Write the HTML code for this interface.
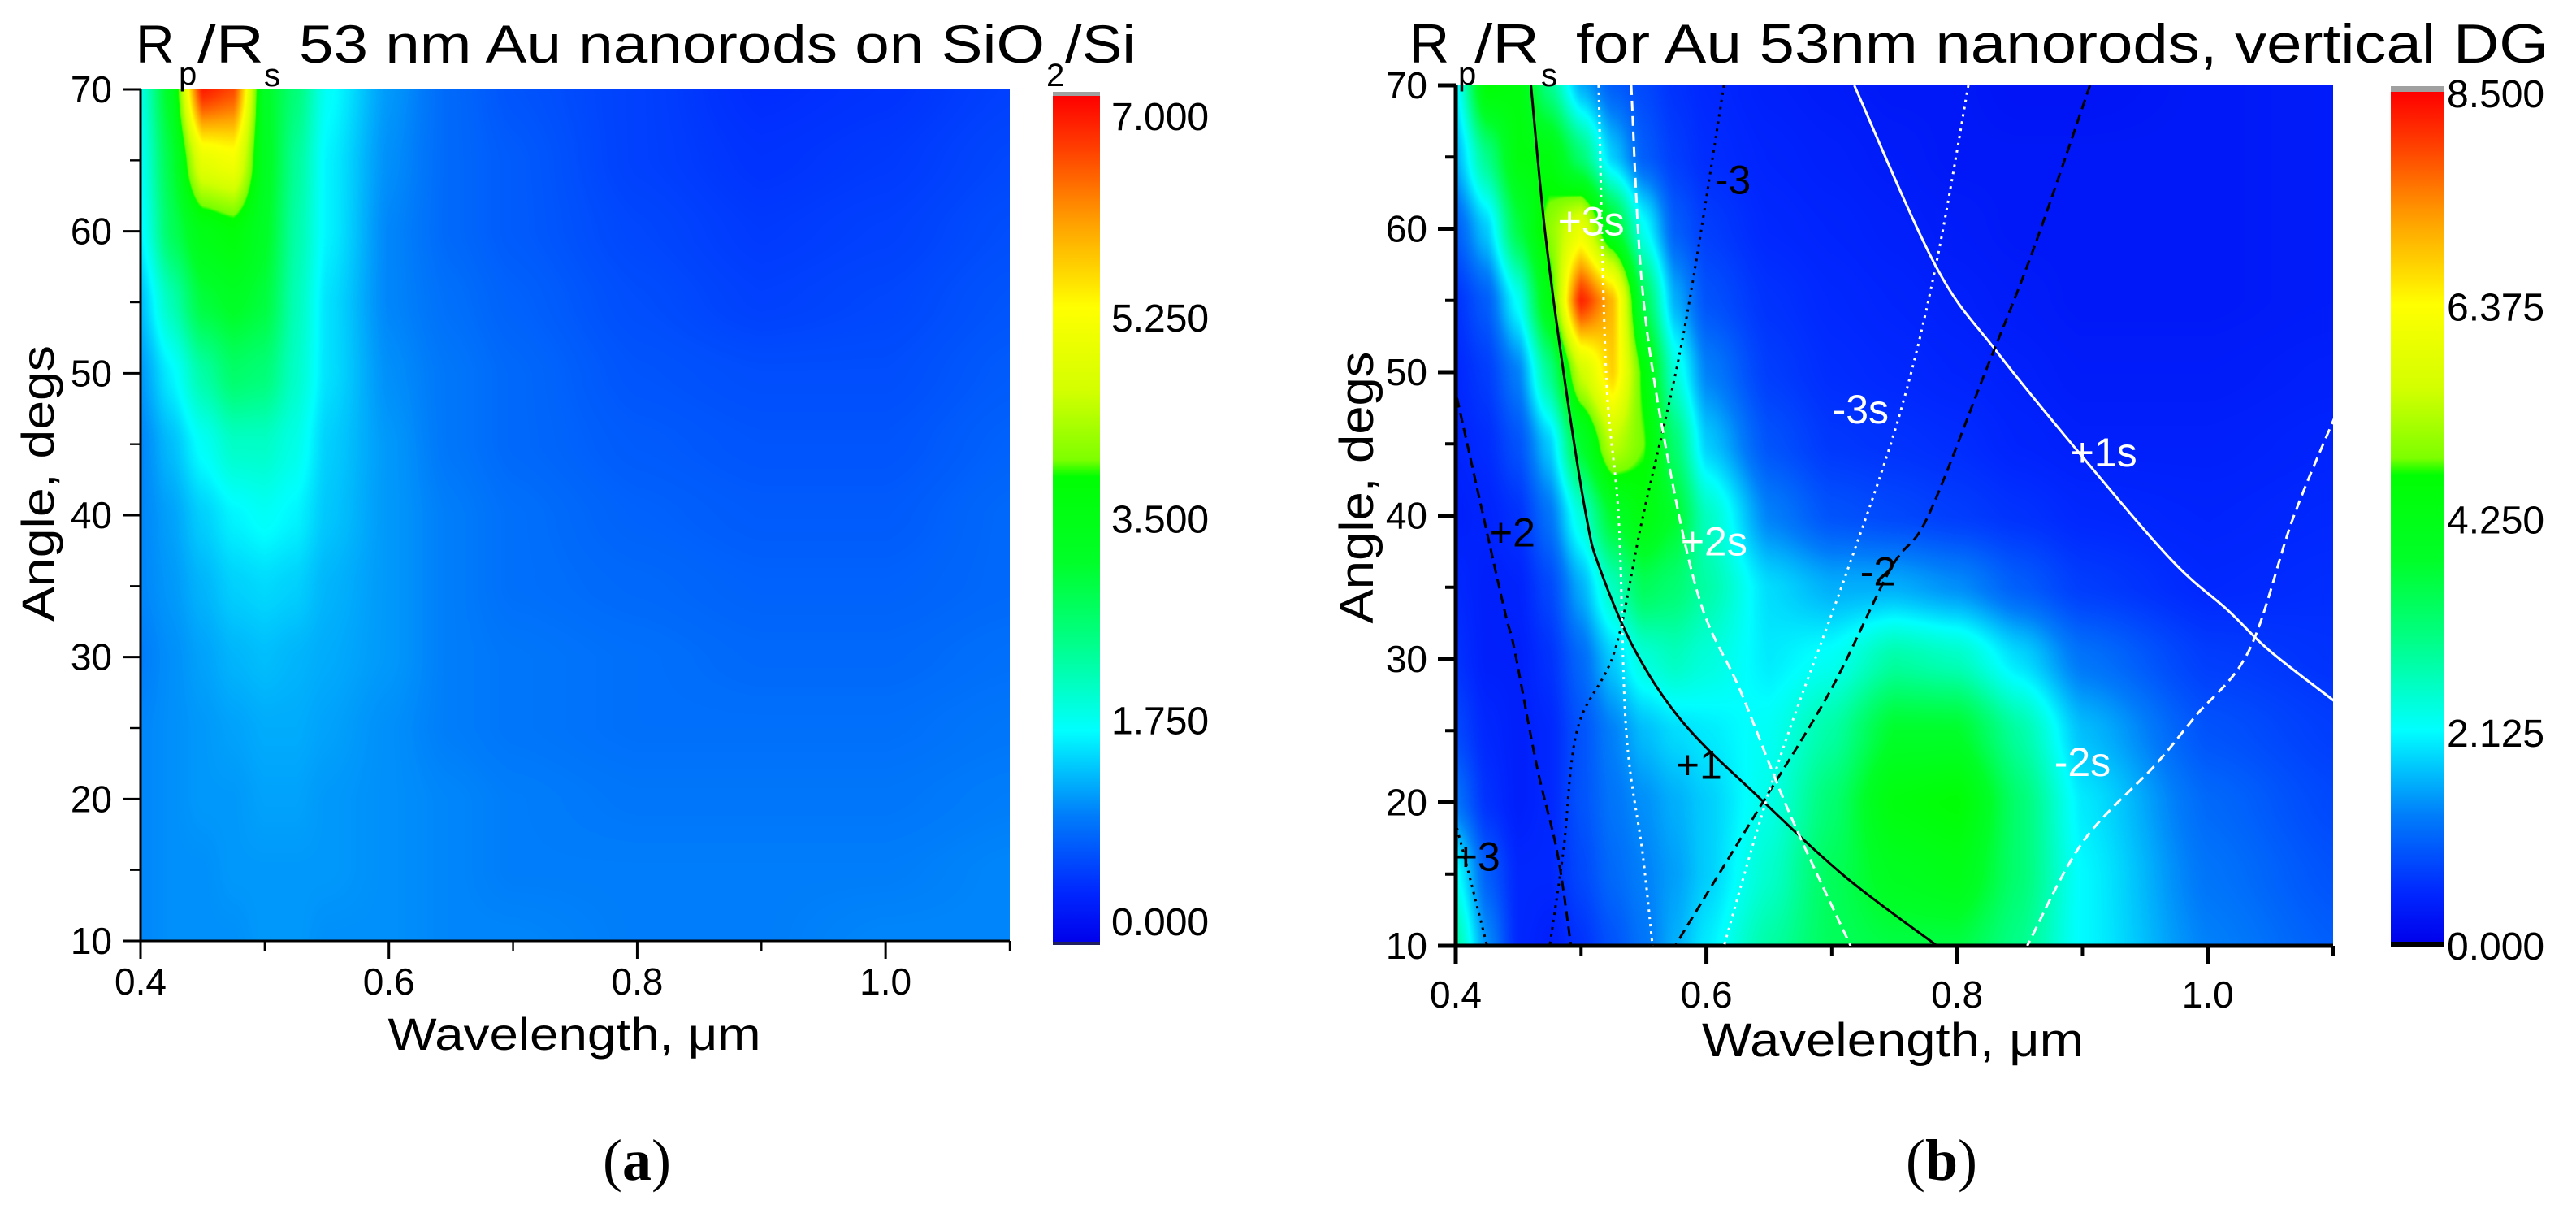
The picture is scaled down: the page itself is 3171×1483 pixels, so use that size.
<!DOCTYPE html>
<html><head><meta charset="utf-8">
<style>
html,body{margin:0;padding:0;background:#fff;}
#wrap{position:relative;width:3171px;height:1483px;overflow:hidden;background:#fff;font-family:"Liberation Sans",sans-serif;}
canvas{position:absolute;}
svg{position:absolute;left:0;top:0;}
</style></head>
<body>
<div id="wrap">
<canvas id="cA" style="left:173px;top:110px" width="1070" height="1048"></canvas>
<canvas id="cB" style="left:1792px;top:105px" width="1080" height="1059"></canvas>
<svg id="ov" width="3171" height="1483" viewBox="0 0 3171 1483">
<defs>
<linearGradient id="gA" x1="0" y1="1" x2="0" y2="0"></linearGradient>
<linearGradient id="gB" x1="0" y1="1" x2="0" y2="0"></linearGradient>
<clipPath id="clipB"><rect x="1792" y="105" width="1080" height="1059"/></clipPath>
</defs>
<g font-family="Liberation Sans, sans-serif" fill="#000">
<text x="167" y="77" font-size="66">R</text>
<text x="220" y="104" font-size="40">p</text>
<text x="243" y="77" font-size="66" textLength="82" lengthAdjust="spacingAndGlyphs">/R</text>
<text x="325" y="106" font-size="40">s</text>
<text x="368" y="77" font-size="66" textLength="918" lengthAdjust="spacingAndGlyphs">53 nm Au nanorods on SiO</text>
<text x="1288" y="106" font-size="40">2</text>
<text x="1311" y="77" font-size="66" textLength="87" lengthAdjust="spacingAndGlyphs">/Si</text>
</g>
<g font-family="Liberation Sans, sans-serif" fill="#000">
<text x="1735" y="77" font-size="68">R</text>
<text x="1795" y="104" font-size="40">p</text>
<text x="1815" y="77" font-size="68" textLength="80" lengthAdjust="spacingAndGlyphs">/R</text>
<text x="1897" y="106" font-size="40">s</text>
<text x="1940" y="77" font-size="68" textLength="1197" lengthAdjust="spacingAndGlyphs">for Au 53nm nanorods, vertical DG</text>
</g>
<text x="707" y="1292" font-size="56" text-anchor="middle" textLength="459" lengthAdjust="spacingAndGlyphs">Wavelength, μm</text>
<text x="2330" y="1300" font-size="58" text-anchor="middle" textLength="470" lengthAdjust="spacingAndGlyphs">Wavelength, μm</text>
<text transform="translate(66,595) rotate(-90)" font-size="56" text-anchor="middle" textLength="340" lengthAdjust="spacingAndGlyphs">Angle, degs</text>
<text transform="translate(1690,600) rotate(-90)" font-size="58" text-anchor="middle" textLength="335" lengthAdjust="spacingAndGlyphs">Angle, degs</text>
<text x="784" y="1452" font-size="72" text-anchor="middle" font-family="Liberation Serif, serif">(<tspan font-weight="bold">a</tspan>)</text>
<text x="2390" y="1452" font-size="72" text-anchor="middle" font-family="Liberation Serif, serif">(<tspan font-weight="bold">b</tspan>)</text>
<g>
<rect x="1296" y="113" width="58" height="6" fill="#a0a0a0"/>
<rect x="1296" y="118" width="58" height="1042" fill="url(#gA)"/>
<rect x="1296" y="1159" width="58" height="4" fill="#202060"/>
</g>
<g>
<rect x="2943" y="106" width="65" height="8" fill="#a0a0a0"/>
<rect x="2943" y="113" width="65" height="1048" fill="url(#gB)"/>
<rect x="2943" y="1159" width="65" height="7" fill="#000"/>
</g>
<g id="axesA"></g>
<g id="axesB"></g>
<g id="linesB" clip-path="url(#clipB)"></g>
<g id="labelsB"></g>
</svg>
</div>
<script>
// ---------- data: panel (a) ----------
const lamA = [0.40,0.425,0.45,0.475,0.50,0.525,0.55,0.60,0.65,0.70,0.80,0.90,1.00,1.10];
const angA = [70,65,60,55,50,45,40,35,30,25,20,15,10];
const valA = [
[1.9,3.3,6.8,6.5,3.2,2.6,1.8,1.2,0.9,0.75,0.6,0.45,0.5,0.6],
[1.8,3.0,4.9,5.1,3.3,2.4,1.7,1.15,0.9,0.8,0.6,0.5,0.55,0.65],
[1.7,2.8,3.5,3.7,3.2,2.3,1.7,1.1,0.9,0.8,0.65,0.55,0.6,0.7],
[1.4,2.2,3.0,3.2,3.0,2.2,1.6,1.1,0.95,0.85,0.7,0.6,0.65,0.75],
[1.2,1.7,2.3,2.7,2.6,2.1,1.6,1.15,1.0,0.9,0.75,0.7,0.7,0.8],
[1.1,1.4,1.8,2.1,2.1,1.9,1.5,1.2,1.0,0.9,0.8,0.75,0.75,0.85],
[1.1,1.25,1.5,1.7,1.8,1.7,1.45,1.2,1.05,0.95,0.85,0.8,0.8,0.9],
[1.1,1.2,1.35,1.5,1.55,1.5,1.35,1.2,1.05,0.95,0.9,0.85,0.85,0.9],
[1.05,1.15,1.25,1.35,1.4,1.35,1.3,1.2,1.05,1.0,0.95,0.9,0.9,0.95],
[1.1,1.15,1.2,1.25,1.3,1.3,1.25,1.15,1.05,1.0,0.95,0.95,0.95,1.0],
[1.1,1.15,1.2,1.2,1.25,1.25,1.2,1.15,1.1,1.05,1.0,1.0,1.0,1.05],
[1.1,1.15,1.15,1.2,1.2,1.2,1.2,1.15,1.1,1.05,1.05,1.05,1.05,1.1],
[1.1,1.15,1.15,1.15,1.2,1.2,1.15,1.15,1.1,1.1,1.05,1.05,1.1,1.1]];
const maxA = 7.0;
const cbTicksA = ["7.000","5.250","3.500","1.750","0.000"];

// ---------- data: panel (b) ----------
const lamB = [0.40,0.425,0.45,0.475,0.50,0.525,0.55,0.575,0.60,0.65,0.70,0.75,0.80,0.85,0.90,1.00,1.10];
const angB = [70,65,60,55,50,45,40,35,30,25,20,15,10];
const valB = [
[2.0,4.6,4.4,3.0,1.6,1.0,0.8,0.6,0.5,0.4,0.35,0.3,0.3,0.25,0.25,0.3,0.35],
[1.6,3.0,4.4,4.4,3.2,1.8,1.0,0.7,0.55,0.45,0.4,0.35,0.3,0.3,0.3,0.3,0.35],
[1.0,1.8,3.6,5.0,6.0,4.0,2.2,1.0,0.7,0.5,0.45,0.4,0.35,0.3,0.3,0.3,0.35],
[0.6,1.0,2.2,4.4,8.2,7.0,3.5,1.6,0.9,0.6,0.5,0.45,0.4,0.35,0.3,0.3,0.35],
[0.5,0.7,1.3,3.0,5.5,6.8,4.6,2.4,1.3,0.7,0.55,0.5,0.45,0.4,0.35,0.35,0.4],
[0.45,0.55,0.9,1.8,3.8,5.4,4.8,3.2,1.8,0.9,0.65,0.6,0.55,0.45,0.4,0.4,0.45],
[0.4,0.45,0.6,1.2,2.4,3.8,4.4,3.8,2.6,1.3,0.9,0.8,0.7,0.6,0.5,0.45,0.5],
[0.5,0.4,0.45,0.8,1.6,2.6,3.4,3.2,2.8,1.9,1.6,1.6,1.4,1.0,0.7,0.5,0.55],
[0.6,0.4,0.4,0.6,1.1,1.8,2.4,2.6,2.4,2.0,2.2,2.8,2.6,1.9,1.2,0.7,0.6],
[0.8,0.5,0.4,0.5,0.9,1.3,1.7,1.9,2.0,2.2,2.8,3.8,3.8,2.8,1.7,0.9,0.7],
[1.2,0.6,0.4,0.5,0.9,1.2,1.4,1.6,1.8,2.3,3.2,4.4,4.6,3.2,2.0,1.1,0.8],
[2.2,1.0,0.5,0.5,0.8,1.1,1.3,1.5,1.8,2.5,3.4,4.0,4.2,3.2,2.1,1.2,0.9],
[2.8,1.4,0.5,0.4,0.6,0.9,1.2,1.6,2.0,2.8,3.4,3.6,3.6,3.0,2.1,1.3,1.0]];
const maxB = 8.5;
const cbTicksB = ["8.500","6.375","4.250","2.125","0.000"];

// axis ticks
const xTickLabels = ["0.4","0.6","0.8","1.0"];
const xTickVals = [0.4,0.6,0.8,1.0];
const xMinorVals = [0.5,0.7,0.9,1.1];
const yTickVals = [10,20,30,40,50,60,70];
const yMinorVals = [15,25,35,45,55,65];

// diffraction-order curves in panel (b): [wavelength, angle]
const curveP1  = [[0.460,70],[0.471,60],[0.486,50],[0.504,40],[0.515,36.3],[0.543,30.6],[0.582,25.5],[0.640,20.5],[0.711,14.8],[0.784,10]];
const curveP1s = [[0.718,70],[0.783,57.4],[0.832,51.4],[0.900,44.1],[0.971,36.9],[1.016,33.4],[1.049,30.6],[1.102,27]];
const curveM3  = [[0.614,70],[0.582,52.8],[0.549,39.8],[0.527,30.6],[0.497,25.1],[0.486,16.7],[0.475,10]];
const curveM2  = [[0.906,70],[0.861,58.6],[0.822,49.9],[0.776,39.8],[0.747,36.3],[0.699,27.8],[0.640,19.3],[0.575,10]];
const curveP2  = [[0.401,48.2],[0.426,38.4],[0.440,33],[0.447,30.6],[0.465,22.4],[0.481,16.5],[0.492,10]];
const curveP3  = [[0.401,18.2],[0.412,14.5],[0.425,10]];
const curveP3s = [[0.514,70],[0.520,49.9],[0.530,39.8],[0.536,25.0],[0.549,16.5],[0.557,10]];
const curveP2s = [[0.540,70],[0.549,55.7],[0.569,44.1],[0.595,34.0],[0.627,27.8],[0.666,19.3],[0.715,10]];
const curveM3s = [[0.809,70],[0.783,57.4],[0.754,47.0],[0.713,36.3],[0.666,25],[0.640,17.9],[0.614,10]];
const curveM2s = [[1.102,47.0],[1.068,39.8],[1.033,30.6],[0.990,26],[0.958,22.6],[0.900,17.2],[0.856,10]];
const curveLabels = ["-3","+3s","-3s","+1s","+2","+2s","-2","+1","-2s","+3"];
const curveLabelPos = [[0.621,63.4],[0.508,60.5],[0.723,47.4],[0.917,44.4],[0.445,38.8],[0.606,38.2],[0.737,36.1],[0.594,22.6],[0.900,22.8],[0.417,16.2]];
const curveLabelColor = ["#000","#fff","#fff","#fff","#000","#fff","#000","#000","#fff","#000"];

// ---------- colormap ----------
const cmStops = [[0,[0,0,235]],[0.06,[0,40,255]],[0.15,[0,125,250]],[0.25,[0,255,255]],[0.36,[0,255,130]],[0.45,[0,255,40]],[0.555,[0,255,0]],[0.565,[120,255,0]],[0.65,[210,255,0]],[0.75,[255,255,0]],[0.85,[255,160,0]],[0.94,[255,60,0]],[1,[255,0,0]]];
function cmap(f){
  f=Math.max(0,Math.min(1,f));
  for(let i=1;i<cmStops.length;i++){
    if(f<=cmStops[i][0]){
      const a=cmStops[i-1],b=cmStops[i],t=(f-a[0])/(b[0]-a[0]);
      return [0,1,2].map(k=>Math.round(a[1][k]+(b[1][k]-a[1][k])*t));
    }
  }
  return cmStops[cmStops.length-1][1];
}
function findIdx(arr,v,desc){
  for(let i=0;i<arr.length-1;i++){
    const lo=desc?arr[i+1]:arr[i],hi=desc?arr[i]:arr[i+1];
    if(v>=lo&&v<=hi){return [i,desc?(arr[i]-v)/(arr[i]-arr[i+1]):(v-arr[i])/(arr[i+1]-arr[i])];}
  }
  return v<(desc?arr[arr.length-1]:arr[0])?(desc?[arr.length-2,1]:[0,0]):(desc?[0,0]:[arr.length-2,1]);
}
function sm(t){return t*t*(3-2*t)*0.5+t*0.5;}
function renderHeat(id,lams,angs,vals,vmax,l0,l1,a0,a1){
  const c=document.getElementById(id),ctx=c.getContext('2d'),W=c.width,H=c.height;
  const img=ctx.createImageData(W,H);
  for(let y=0;y<H;y++){
    const ang=a1-(y+0.5)/H*(a1-a0);
    let [ri,rt]=findIdx(angs,ang,true); rt=sm(rt);
    for(let x=0;x<W;x++){
      const lam=l0+(x+0.5)/W*(l1-l0);
      let [ci,ct]=findIdx(lams,lam,false); ct=sm(ct);
      const v00=vals[ri][ci],v01=vals[ri][ci+1],v10=vals[ri+1][ci],v11=vals[ri+1][ci+1];
      const v=(v00*(1-ct)+v01*ct)*(1-rt)+(v10*(1-ct)+v11*ct)*rt;
      const col=cmap(v/vmax),p=(y*W+x)*4;
      img.data[p]=col[0];img.data[p+1]=col[1];img.data[p+2]=col[2];img.data[p+3]=255;
    }
  }
  ctx.putImageData(img,0,0);
}
renderHeat('cA',lamA,angA,valA,maxA,0.4,1.1,10,70);
renderHeat('cB',lamB,angB,valB,maxB,0.4,1.1,10,70);

const NS="http://www.w3.org/2000/svg";
['gA','gB'].forEach(g=>{
  const el=document.getElementById(g);
  for(let i=0;i<=100;i++){
    const s=document.createElementNS(NS,'stop');
    const c=cmap(i/100);
    s.setAttribute('offset',(i/100).toFixed(2));
    s.setAttribute('stop-color','rgb('+c.join(',')+')');
    el.appendChild(s);
  }
});

function mk(tag,attrs,parent,txt){
  const e=document.createElementNS(NS,tag);
  for(const k in attrs)e.setAttribute(k,attrs[k]);
  if(txt!==undefined)e.textContent=txt;
  parent.appendChild(e);return e;
}

function drawAxes(gid,X0,X1,Y0,Y1,lw,yLabX,xLabY,cbX,cbY0,cbY1,cbTicks){
  const g=document.getElementById(gid);
  const sx=l=>X0+(l-0.4)/0.7*(X1-X0);
  const sy=a=>Y1-(a-10)/60*(Y1-Y0);
  let e=mk('line',{x1:X0,y1:Y0,x2:X0,y2:Y1+lw/2,stroke:'#000','stroke-width':lw},g);
  
  
  e=mk('line',{x1:X0-lw/2,y1:Y1,x2:X1,y2:Y1,stroke:'#000','stroke-width':lw},g);
  
  
  yTickVals.forEach(v=>{
    const t=mk('line',{x1:X0-22,y1:sy(v),x2:X0,y2:sy(v),stroke:'#000','stroke-width':lw},g);
    
    
    const l=mk('text',{x:yLabX,y:sy(v)+16,'font-size':46,'text-anchor':'end'},g,String(v));
    
    
  });
  yMinorVals.forEach(v=>{
    const t=mk('line',{x1:X0-13,y1:sy(v),x2:X0,y2:sy(v),stroke:'#000','stroke-width':lw*0.8},g);
    
    
  });
  xTickVals.forEach((v,i)=>{
    const t=mk('line',{x1:sx(v),y1:Y1,x2:sx(v),y2:Y1+22,stroke:'#000','stroke-width':lw},g);
    
    
    const l=mk('text',{x:sx(v),y:xLabY,'font-size':46,'text-anchor':'middle'},g,xTickLabels[i]);
    
    
  });
  xMinorVals.forEach(v=>{
    const t=mk('line',{x1:sx(v),y1:Y1,x2:sx(v),y2:Y1+13,stroke:'#000','stroke-width':lw*0.8},g);
    
    
  });
  cbTicks.forEach((s,i)=>{
    const y=cbY0+(cbY1-cbY0)*i/(cbTicks.length-1);
    const l=mk('text',{x:cbX,y:y+17,'font-size':48},g,s);
    
    
  });
}
drawAxes('axesA',173,1243,110,1158,3,138,1224,1368,143,1134,cbTicksA);
drawAxes('axesB',1792,2872,105,1164,5,1757,1240,3012,115,1164,cbTicksB);

const sxB=l=>1792+(l-0.4)/0.7*1080;
const syB=a=>1164-(a-10)/60*1059;
function smoothPath(pts){
  const P=pts.map(p=>[sxB(p[0]),syB(p[1])]);
  let d='M'+P[0][0].toFixed(1)+','+P[0][1].toFixed(1);
  for(let i=0;i<P.length-1;i++){
    const p0=P[Math.max(0,i-1)],p1=P[i],p2=P[i+1],p3=P[Math.min(P.length-1,i+2)];
    const c1=[p1[0]+(p2[0]-p0[0])/6,p1[1]+(p2[1]-p0[1])/6];
    const c2=[p2[0]-(p3[0]-p1[0])/6,p2[1]-(p3[1]-p1[1])/6];
    d+=' C'+c1[0].toFixed(1)+','+c1[1].toFixed(1)+' '+c2[0].toFixed(1)+','+c2[1].toFixed(1)+' '+p2[0].toFixed(1)+','+p2[1].toFixed(1);
  }
  return d;
}
const curves=[
 [curveP1,'#000','none','order-plus1'],
 [curveP1s,'#fff','none','order-plus1s'],
 [curveM3,'#000','3 6','order-minus3'],
 [curveM2,'#000','12 7','order-minus2'],
 [curveP2,'#000','12 7','order-plus2'],
 [curveP3,'#000','3 6','order-plus3'],
 [curveP3s,'#fff','3 6','order-plus3s'],
 [curveP2s,'#fff','12 7','order-plus2s'],
 [curveM3s,'#fff','3 6','order-minus3s'],
 [curveM2s,'#fff','12 7','order-minus2s']];
const lg=document.getElementById('linesB');
curves.forEach(c=>{
  const pl=mk('path',{d:smoothPath(c[0]),fill:'none',stroke:c[1],'stroke-width':3,'stroke-dasharray':c[2]},lg);
  
  
});
const lb=document.getElementById('labelsB');
curveLabels.forEach((s,i)=>{
  const t=mk('text',{x:sxB(curveLabelPos[i][0]),y:syB(curveLabelPos[i][1])+17,'font-size':50,'text-anchor':'middle',fill:curveLabelColor[i]},lb,s);
  
  
});
</script>
</body></html>
